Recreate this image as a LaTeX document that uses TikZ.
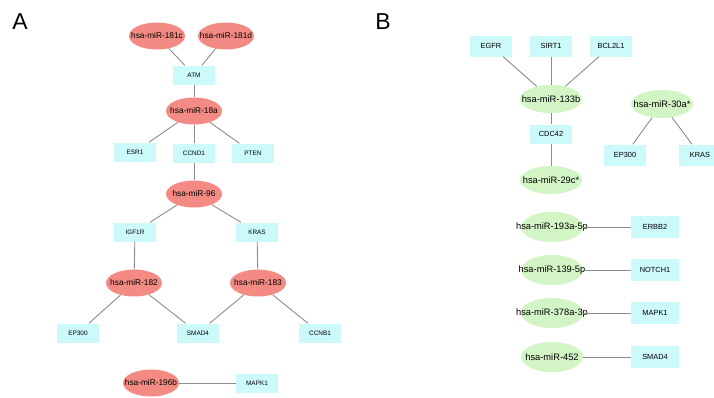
\documentclass[tikz,border=0pt]{standalone}
\usepackage{fontspec}
\setmainfont{Liberation Sans}
\usetikzlibrary{shapes.geometric}
\definecolor{mirred}{HTML}{F38A84}
\definecolor{mirgreen}{HTML}{D3F5C6}
\definecolor{genecyan}{HTML}{CCF9F9}
\definecolor{edgegray}{HTML}{8C8C8C}
\newcommand{\nlbl}[1]{\makebox[0pt][c]{#1}}
\begin{document}
\begin{tikzpicture}[x=1pt,y=-1pt,
  mira/.style={ellipse, fill=mirred, draw=none, inner sep=0pt, minimum width=56pt, minimum height=27pt, font=\fontsize{8.3}{9}\selectfont},
  mirb/.style={ellipse, fill=mirgreen, draw=none, inner sep=0pt, minimum width=62pt, minimum height=28pt, font=\fontsize{9.3}{10}\selectfont},
  genea/.style={rectangle, fill=genecyan, draw=none, inner sep=0pt, minimum width=42pt, minimum height=19pt, font=\fontsize{6.4}{7}\selectfont},
  geneb/.style={rectangle, fill=genecyan, draw=none, inner sep=0pt, minimum width=42pt, minimum height=21pt, font=\fontsize{7.4}{8}\selectfont},
  link/.style={draw=edgegray, line width=0.9pt},
  panel/.style={font=\fontsize{23}{26}\selectfont, inner sep=0pt}]
\useasboundingbox (0,0) rectangle (714,397);
\clip (0,0) rectangle (714,397);
\fill[white] (0,0) rectangle (714,397);

% Panel labels
\node[panel] (lblA) at (20,22) {A};
\node[panel] (lblB) at (383,22) {B};

% ---------- Panel A ----------
\node[mira] (m181c) at (157,36) {\nlbl{hsa-miR-181c}};
\node[mira] (m181d) at (226,36) {\nlbl{hsa-miR-181d}};
\node[genea] (atm) at (194,75) {\nlbl{ATM}};
\node[mira] (m18a) at (194,111) {\nlbl{hsa-miR-18a}};
\node[genea] (esr1) at (135,152) {\nlbl{ESR1}};
\node[genea] (ccnd1) at (194,153) {\nlbl{CCND1}};
\node[genea] (pten) at (253,153) {\nlbl{PTEN}};
\node[mira] (m96) at (194,194) {\nlbl{hsa-miR-96}};
\node[genea] (igf1r) at (135,232) {\nlbl{IGF1R}};
\node[genea] (krasa) at (257,232) {\nlbl{KRAS}};
\node[mira] (m182) at (134,283) {\nlbl{hsa-miR-182}};
\node[mira] (m183) at (258,283) {\nlbl{hsa-miR-183}};
\node[genea] (ep300a) at (78,333) {\nlbl{EP300}};
\node[genea] (smad4a) at (198,333) {\nlbl{SMAD4}};
\node[genea] (ccnb1) at (320,333) {\nlbl{CCNB1}};
\node[mira] (m196b) at (151,383) {\nlbl{hsa-miR-196b}};
\node[genea] (mapk1a) at (257,383) {\nlbl{MAPK1}};

\draw[link] (m181c) -- (atm);
\draw[link] (m181d) -- (atm);
\draw[link] (atm) -- (m18a);
\draw[link] (m18a) -- (esr1);
\draw[link] (m18a) -- (ccnd1);
\draw[link] (m18a) -- (pten);
\draw[link] (ccnd1) -- (m96);
\draw[link] (m96) -- (igf1r);
\draw[link] (m96) -- (krasa);
\draw[link] (igf1r) -- (m182);
\draw[link] (krasa) -- (m183);
\draw[link] (m182) -- (ep300a);
\draw[link] (m182) -- (smad4a);
\draw[link] (m183) -- (smad4a);
\draw[link] (m183) -- (ccnb1);
\draw[link] (m196b) -- (mapk1a);

% ---------- Panel B ----------
\node[geneb] (egfr) at (491,46) {\nlbl{EGFR}};
\node[geneb] (sirt1) at (551,46) {\nlbl{SIRT1}};
\node[geneb] (bcl2l1) at (611,46) {\nlbl{BCL2L1}};
\node[mirb] (m133b) at (551,99) {\nlbl{hsa-miR-133b}};
\node[geneb, minimum height=19pt] (cdc42) at (551,134) {\nlbl{CDC42}};
\node[mirb] (m29c) at (551,180) {\nlbl{hsa-miR-29c*}};
\node[mirb] (m30a) at (662,104) {\nlbl{hsa-miR-30a*}};
\node[geneb] (ep300b) at (625,155) {\nlbl{EP300}};
\node[geneb] (krasb) at (700,155) {\nlbl{KRAS}};
\node[mirb, minimum height=30pt] (m193a) at (552,227) {\nlbl{hsa-miR-193a-5p}};
\node[geneb, minimum width=48pt, minimum height=22pt] (erbb2) at (655,227) {\nlbl{ERBB2}};
\node[mirb, minimum height=30pt] (m139) at (552,270) {\nlbl{hsa-miR-139-5p}};
\node[geneb, minimum width=48pt, minimum height=22pt] (notch1) at (655,270) {\nlbl{NOTCH1}};
\node[mirb, minimum height=30pt] (m378a) at (552,313) {\nlbl{hsa-miR-378a-3p}};
\node[geneb, minimum width=48pt, minimum height=22pt] (mapk1b) at (655,313) {\nlbl{MAPK1}};
\node[mirb, minimum height=30pt] (m452) at (552,357) {\nlbl{hsa-miR-452}};
\node[geneb, minimum width=48pt, minimum height=22pt] (smad4b) at (655,357) {\nlbl{SMAD4}};

\draw[link] (egfr) -- (m133b);
\draw[link] (sirt1) -- (m133b);
\draw[link] (bcl2l1) -- (m133b);
\draw[link] (m133b) -- (cdc42);
\draw[link] (cdc42) -- (m29c);
\draw[link] (m30a) -- (ep300b);
\draw[link] (m30a) -- (krasb);
\draw[link] (m193a) -- (erbb2);
\draw[link] (m139) -- (notch1);
\draw[link] (m378a) -- (mapk1b);
\draw[link] (m452) -- (smad4b);
\end{tikzpicture}
\end{document}
